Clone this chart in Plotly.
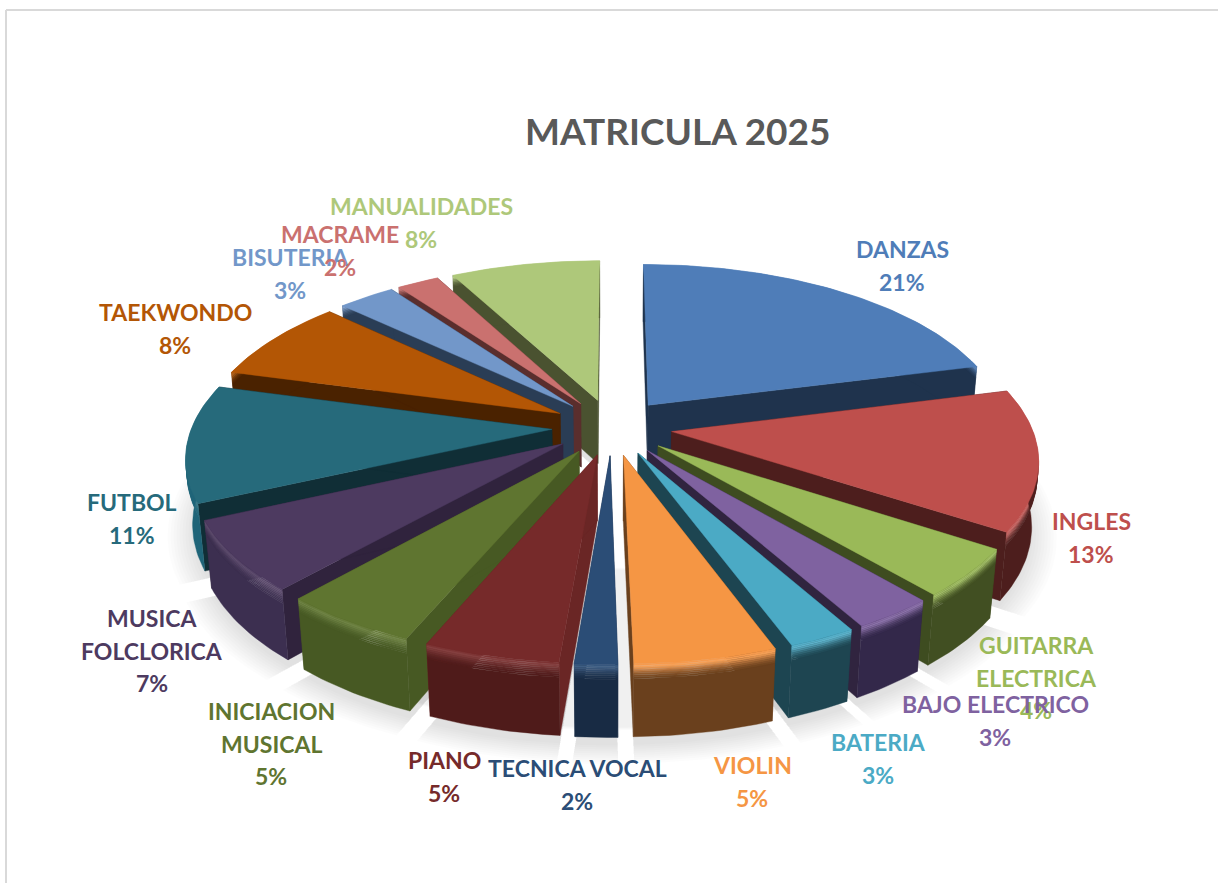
import math
import plotly.graph_objects as go

categories = ["DANZAS", "INGLES", "GUITARRA ELECTRICA", "BAJO ELECTRICO", "BATERIA", "VIOLIN",
              "TECNICA VOCAL", "PIANO", "INICIACION MUSICAL", "MUSICA FOLCLORICA", "FUTBOL",
              "TAEKWONDO", "BISUTERIA", "MACRAME", "MANUALIDADES"]
# shares; the labels show them rounded
values = [21.0, 13.2, 4.5, 3.1, 2.55, 5.35, 1.6, 5.1, 5.2, 6.6, 11.0, 7.8, 3.0, 2.2, 7.8]

top_colors = ["#4F7DB8", "#BE4F4C", "#9AB958", "#7F62A0", "#4BAAC5", "#F59644", "#2B4D76", "#762A2A",
              "#5F7530", "#4D3A60", "#266A7B", "#B35605", "#7297C9", "#CA716F", "#AEC87A"]
wall_colors = ["#1F334D", "#4D1E1D", "#414F22", "#33284A", "#1E4551", "#6A401D", "#182B44", "#4F1B1A",
               "#475923", "#3C2F50", "#1F6478", "#4A2200", "#2A3D55", "#5A2E2D", "#4A5230"]
side_colors = ["#1F334D", "#4D1E1D", "#3E4C20", "#30243F", "#1D4551", "#6A401D", "#182B44", "#6A2625",
               "#475923", "#30233D", "#102E36", "#4A2200", "#2A3D55", "#5A2E2D", "#4A5230"]

label_lines = [["DANZAS"], ["INGLES"], ["GUITARRA", "ELECTRICA"], ["BAJO ELECTRICO"], ["BATERIA"], ["VIOLIN"],
               ["TECNICA VOCAL"], ["PIANO"], ["INICIACION", "MUSICAL"], ["MUSICA", "FOLCLORICA"], ["FUTBOL"],
               ["TAEKWONDO"], ["BISUTERIA"], ["MACRAME"], ["MANUALIDADES"]]
label_xc = [902, 1091, 1036, 995, 878, 752, 577, 444, 271, 152, 132, 175, 290, 340, 421]
label_y0 = [249, 521, 645, 704, 742, 765, 768, 760, 711, 618, 502, 312, 257, 234, 206]

# camera and solid
EL = math.radians(27.8)
D = 5.9
SCALE = 360
CX, CY = 612, 427
EXPLODE = 0.167
THICK = 0.205
LINE_GAP = 32.7
FONT = "Lato"


def proj(X, Y, Z):
    depth = D + Y * math.cos(EL) - Z * math.sin(EL)
    f = SCALE * D
    return CX + f * X / depth, CY - f * (Y * math.sin(EL) + Z * math.cos(EL)) / depth


def mix(a, b, t):
    ca = [int(a[i:i + 2], 16) for i in (1, 3, 5)]
    cb = [int(b[i:i + 2], 16) for i in (1, 3, 5)]
    return "#%02x%02x%02x" % tuple(round(p + (q - p) * t) for p, q in zip(ca, cb))


def poly(fig, pts, color, line=0.4):
    xs = [p[0] for p in pts] + [pts[0][0]]
    ys = [p[1] for p in pts] + [pts[0][1]]
    fig.add_trace(go.Scatter(x=xs, y=ys, mode="lines", fill="toself", fillcolor=color,
                             line=dict(color=color, width=line), hoverinfo="skip", showlegend=False))


total = sum(values)
slices = []
acc = 0
for i, val in enumerate(values):
    a0 = acc / total * 2 * math.pi
    acc += val
    a1 = acc / total * 2 * math.pi
    mid = (a0 + a1) / 2
    slices.append(dict(i=i, a0=a0, a1=a1, ox=EXPLODE * math.sin(mid), oy=EXPLODE * math.cos(mid), mid=mid))


def arc(s, z, r=1.0):
    n = max(8, int((s["a1"] - s["a0"]) * 50))
    return [proj(s["ox"] + r * math.sin(s["a0"] + (s["a1"] - s["a0"]) * k / n),
                 s["oy"] + r * math.cos(s["a0"] + (s["a1"] - s["a0"]) * k / n), z) for k in range(n + 1)]


fig = go.Figure()

# soft shadow on the ground
for step in range(10):
    r = 1.07 - step * 0.008
    for s in slices:
        pts = arc(s, -THICK * 1.12, r) + [proj(s["ox"], s["oy"], -THICK * 1.12)]
        poly(fig, pts, "rgba(0,0,0,0.012)", line=0)
# the same shadow fills the gaps between the front slices
for step in range(5):
    chord = []
    for t in range(91):
        ang = math.radians(110 + t * (140 / 90))
        chord.append(proj(1.1 * math.sin(ang), 1.1 * math.cos(ang), -THICK * (1.1 + step * 0.01)))
    poly(fig, chord, "rgba(0,0,0,0.012)", line=0)

order = sorted(slices, key=lambda s: -math.cos(s["mid"]))
for s in order:
    i = s["i"]
    apex_t = proj(s["ox"], s["oy"], 0)
    apex_b = proj(s["ox"], s["oy"], -THICK)
    for ang in (s["a0"], s["a1"]):
        ex, ey = s["ox"] + math.sin(ang), s["oy"] + math.cos(ang)
        poly(fig, [apex_t, proj(ex, ey, 0), proj(ex, ey, -THICK), apex_b], side_colors[i])
    # outer wall with a bevelled upper rim that fades into the dark wall
    light = mix(top_colors[i], "#ffffff", 0.1)
    stops = [0, 0.025, 0.05, 0.075, 0.1, 0.125, 0.15, 0.175, 0.2, 1.0]
    cols = [mix(top_colors[i], light, 0.5), light, mix(light, wall_colors[i], 0.15), mix(light, wall_colors[i], 0.35),
            mix(light, wall_colors[i], 0.55), mix(light, wall_colors[i], 0.72), mix(light, wall_colors[i], 0.85),
            mix(light, wall_colors[i], 0.94), wall_colors[i]]
    for k in range(len(cols)):
        upper = arc(s, -THICK * stops[k])
        lower = arc(s, -THICK * stops[k + 1])
        poly(fig, upper + lower[::-1], cols[k])
    poly(fig, [apex_t] + arc(s, 0), top_colors[i])

annotations = []
for i, lines in enumerate(label_lines):
    full = lines + [f"{round(values[i])}%"]
    for j, txt in enumerate(full):
        annotations.append(dict(x=label_xc[i], y=label_y0[i] + j * LINE_GAP, text=f"<b>{txt}</b>", showarrow=False,
                                xref="x", yref="y", xanchor="center", yanchor="middle",
                                font=dict(family=FONT, size=23, color=top_colors[i])))
annotations.append(dict(x=677, y=130, text="<b>MATRICULA 2025</b>", showarrow=False, xref="x", yref="y",
                        xanchor="center", yanchor="middle", font=dict(family=FONT, size=37, color="#595959")))

fig.update_layout(
    width=1218, height=883, margin=dict(l=0, r=0, t=0, b=0),
    paper_bgcolor="white", plot_bgcolor="white",
    xaxis=dict(range=[0, 1218], visible=False, fixedrange=True),
    yaxis=dict(range=[883, 0], visible=False, fixedrange=True),
    showlegend=False, annotations=annotations,
    shapes=[dict(type="line", xref="x", yref="y", x0=6, y0=10, x1=1218, y1=10, line=dict(color="#d9d9d9", width=2)),
            dict(type="line", xref="x", yref="y", x0=6, y0=10, x1=6, y1=883, line=dict(color="#d9d9d9", width=2))],
)
fig.write_html("out.html", config=dict(displayModeBar=False),
               post_script="document.body.style.margin='0';document.documentElement.style.overflow='hidden';")
